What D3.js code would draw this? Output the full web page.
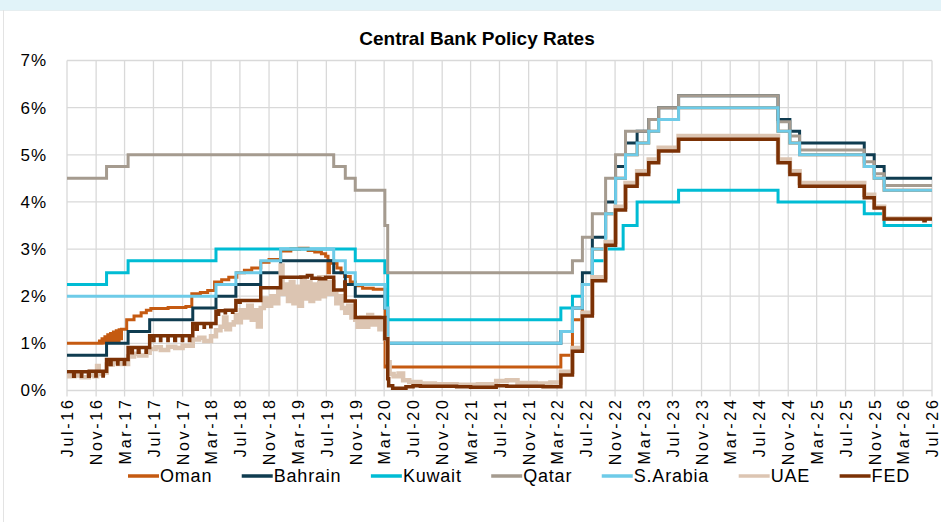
<!DOCTYPE html>
<html>
<head>
<meta charset="utf-8">
<script src="https://cdn.jsdelivr.net/npm/d3@7/dist/d3.min.js"></script>
<style>
  html, body { margin: 0; padding: 0; background: #ffffff; }
  svg { display: block; }
  text { font-family: "Liberation Sans", Arial, sans-serif; fill: #000000; }
</style>
</head>
<body>
<svg id="chart" width="941" height="522"></svg>
<script>
// ---- series and axis definitions ----
const seriesNames = ["Oman", "Bahrain", "Kuwait", "Qatar", "S.Arabia", "UAE", "FED"];
const seriesColors = ["#c55a11", "#0f3c50", "#00bcd4", "#a59b8f", "#6ecbe8", "#dcc5b2", "#7b3105"];
const yTickValues = [0, 1, 2, 3, 4, 5, 6, 7];
const xTickLabels = ["Jul-16", "Nov-16", "Mar-17", "Jul-17", "Nov-17", "Mar-18", "Jul-18", "Nov-18",
  "Mar-19", "Jul-19", "Nov-19", "Mar-20", "Jul-20", "Nov-20", "Mar-21", "Jul-21", "Nov-21", "Mar-22",
  "Jul-22", "Nov-22", "Mar-23", "Jul-23", "Nov-23", "Mar-24", "Jul-24", "Nov-24", "Mar-25", "Jul-25",
  "Nov-25", "Mar-26", "Jul-26"];

// policy rates, % (date of change, new level)
const omanRates = [
  ["2016-07-01", 1.00], ["2016-11-15", 1.05], ["2016-11-20", 1.00], ["2016-11-26", 1.10], ["2016-12-02", 1.01],
  ["2016-12-08", 1.14], ["2016-12-14", 1.02], ["2016-12-20", 1.18], ["2016-12-26", 1.03], ["2017-01-01", 1.21],
  ["2017-01-07", 1.04], ["2017-01-13", 1.24], ["2017-01-19", 1.05], ["2017-01-25", 1.27], ["2017-01-31", 1.06],
  ["2017-02-06", 1.29], ["2017-02-12", 1.10], ["2017-02-16", 1.30], ["2017-03-10", 1.50], ["2017-04-10", 1.58],
  ["2017-05-10", 1.65], ["2017-06-01", 1.70], ["2017-06-20", 1.74], ["2017-09-01", 1.76], ["2017-11-15", 1.78],
  ["2017-12-10", 2.05], ["2018-01-15", 2.08], ["2018-02-15", 2.12], ["2018-03-16", 2.30], ["2018-04-15", 2.35],
  ["2018-05-15", 2.40], ["2018-06-18", 2.50], ["2018-07-20", 2.55], ["2018-08-20", 2.60], ["2018-09-27", 2.72],
  ["2018-11-01", 2.78], ["2018-12-20", 2.96], ["2019-02-01", 3.00], ["2019-03-10", 3.02], ["2019-04-15", 2.97],
  ["2019-05-13", 2.94], ["2019-06-10", 2.90], ["2019-06-28", 2.85], ["2019-07-08", 2.50], ["2019-07-14", 2.75],
  ["2019-07-25", 2.70], ["2019-08-15", 2.60], ["2019-09-01", 2.50], ["2019-09-16", 2.42], ["2019-10-10", 2.30],
  ["2019-11-01", 2.22], ["2019-12-01", 2.17], ["2020-01-15", 2.15], ["2020-03-05", 0.50], ["2022-03-17", 0.75],
  ["2022-05-05", 1.50], ["2022-06-16", 2.25], ["2022-07-28", 3.00], ["2022-09-22", 3.75], ["2022-11-03", 4.50],
  ["2022-12-15", 5.00], ["2023-02-02", 5.25], ["2023-03-23", 5.50], ["2023-05-04", 5.75], ["2023-07-27", 6.00],
  ["2024-09-19", 5.50], ["2024-11-08", 5.25], ["2024-12-19", 5.00], ["2025-09-18", 4.75], ["2025-10-30", 4.50],
  ["2025-12-11", 4.25], ["2026-07-01", 4.25]
];

const bahrainRates = [
  ["2016-07-01", 0.75], ["2016-12-15", 1.00], ["2017-03-16", 1.25], ["2017-06-15", 1.50], ["2017-12-14", 1.75],
  ["2018-03-22", 2.00], ["2018-06-14", 2.25], ["2018-09-27", 2.50], ["2018-12-20", 2.75], ["2019-08-01", 2.50],
  ["2019-09-19", 2.25], ["2019-10-31", 2.00], ["2020-03-04", 1.75], ["2020-03-16", 1.00], ["2022-03-17", 1.25],
  ["2022-05-05", 1.75], ["2022-06-16", 2.50], ["2022-07-28", 3.25], ["2022-09-22", 4.00], ["2022-11-03", 4.75],
  ["2022-12-15", 5.25], ["2023-02-02", 5.50], ["2023-03-23", 5.75], ["2023-05-04", 6.00], ["2023-07-27", 6.25],
  ["2024-09-19", 5.75], ["2024-11-08", 5.50], ["2024-12-19", 5.25], ["2025-09-18", 5.00], ["2025-10-30", 4.75],
  ["2025-12-11", 4.50], ["2026-07-01", 4.50]
];

const kuwaitRates = [
  ["2016-07-01", 2.25], ["2016-12-15", 2.50], ["2017-03-16", 2.75], ["2018-03-22", 3.00], ["2019-10-31", 2.75],
  ["2020-03-04", 2.50], ["2020-03-16", 1.50], ["2022-03-17", 1.75], ["2022-05-05", 2.00], ["2022-06-16", 2.25],
  ["2022-07-28", 2.75], ["2022-09-22", 3.00], ["2022-12-05", 3.50], ["2023-02-02", 4.00], ["2023-07-27", 4.25],
  ["2024-09-19", 4.00], ["2025-09-18", 3.75], ["2025-12-11", 3.50], ["2026-07-01", 3.50]
];

const qatarRates = [
  ["2016-07-01", 4.50], ["2016-12-15", 4.75], ["2017-03-16", 5.00], ["2019-08-01", 4.75], ["2019-09-19", 4.50],
  ["2019-10-31", 4.25], ["2020-03-04", 3.50], ["2020-03-16", 2.50], ["2022-05-05", 2.75], ["2022-06-16", 3.25],
  ["2022-07-28", 3.75], ["2022-09-22", 4.50], ["2022-11-03", 5.00], ["2022-12-15", 5.50], ["2023-03-23", 5.75],
  ["2023-05-04", 6.00], ["2023-07-27", 6.25], ["2024-09-19", 5.70], ["2024-11-08", 5.40], ["2024-12-19", 5.10],
  ["2025-09-18", 4.85], ["2025-10-30", 4.60], ["2025-12-11", 4.35], ["2026-07-01", 4.35]
];

const saudiRates = [
  ["2016-07-01", 2.00], ["2018-03-22", 2.25], ["2018-06-14", 2.50], ["2018-09-27", 2.75], ["2018-12-20", 3.00],
  ["2019-08-01", 2.75], ["2019-09-19", 2.50], ["2019-10-31", 2.25], ["2020-03-04", 1.75], ["2020-03-16", 1.00],
  ["2022-03-17", 1.25], ["2022-05-05", 1.75], ["2022-06-16", 2.25], ["2022-07-28", 3.00], ["2022-09-22", 3.75],
  ["2022-11-03", 4.50], ["2022-12-15", 5.00], ["2023-02-02", 5.25], ["2023-03-23", 5.50], ["2023-05-04", 5.75],
  ["2023-07-27", 6.00], ["2024-09-19", 5.50], ["2024-11-08", 5.25], ["2024-12-19", 5.00], ["2025-09-18", 4.75],
  ["2025-10-30", 4.50], ["2025-12-11", 4.25], ["2026-07-01", 4.25]
];

const uaeRates = [
  ["2016-07-01", 0.30], ["2016-08-01", 0.32], ["2016-09-01", 0.28], ["2016-10-01", 0.33], ["2016-10-25", 0.30],
  ["2016-11-05", 0.52], ["2016-11-12", 0.35], ["2016-12-01", 0.38], ["2016-12-16", 0.55], ["2017-01-10", 0.60],
  ["2017-02-01", 0.56], ["2017-03-16", 0.72], ["2017-04-10", 0.78], ["2017-05-01", 0.74], ["2017-06-01", 0.80],
  ["2017-06-15", 0.88], ["2017-07-10", 0.92], ["2017-08-01", 0.86], ["2017-09-01", 0.93], ["2017-10-01", 0.90],
  ["2017-11-01", 0.95], ["2017-12-14", 1.08], ["2018-01-10", 1.12], ["2018-02-01", 1.05], ["2018-03-01", 1.15],
  ["2018-03-22", 1.28], ["2018-04-10", 1.35], ["2018-04-25", 1.55], ["2018-05-05", 1.30], ["2018-05-20", 1.40],
  ["2018-06-05", 1.45], ["2018-06-14", 1.60], ["2018-06-25", 1.45], ["2018-07-05", 1.70], ["2018-07-20", 1.55],
  ["2018-08-05", 1.80], ["2018-08-20", 1.50], ["2018-09-05", 1.70], ["2018-09-15", 1.36], ["2018-09-27", 1.75],
  ["2018-10-10", 1.95], ["2018-10-25", 1.80], ["2018-11-10", 2.00], ["2018-11-25", 1.85], ["2018-12-10", 2.15],
  ["2018-12-20", 2.65], ["2018-12-28", 2.05], ["2019-01-10", 2.25], ["2019-01-20", 1.90], ["2019-02-01", 2.30],
  ["2019-02-12", 1.85], ["2019-02-25", 2.20], ["2019-03-08", 1.80], ["2019-03-20", 2.35], ["2019-04-01", 1.95],
  ["2019-04-12", 2.30], ["2019-04-25", 1.90], ["2019-05-06", 2.25], ["2019-05-18", 1.95], ["2019-06-01", 2.40],
  ["2019-06-12", 2.00], ["2019-06-25", 2.30], ["2019-07-08", 2.05], ["2019-07-20", 2.30], ["2019-08-01", 2.05],
  ["2019-08-12", 1.85], ["2019-08-25", 2.00], ["2019-09-05", 1.75], ["2019-09-19", 1.65], ["2019-10-01", 1.80],
  ["2019-10-15", 1.55], ["2019-10-31", 1.50], ["2019-11-10", 1.35], ["2019-11-25", 1.55], ["2019-12-10", 1.35],
  ["2019-12-25", 1.60], ["2020-01-10", 1.40], ["2020-01-25", 1.55], ["2020-02-10", 1.30], ["2020-02-25", 1.50],
  ["2020-03-04", 1.10], ["2020-03-16", 0.60], ["2020-03-24", 0.35], ["2020-04-10", 0.30], ["2020-05-01", 0.36],
  ["2020-05-20", 0.22], ["2020-06-15", 0.18], ["2020-08-01", 0.15], ["2020-10-01", 0.13], ["2021-01-01", 0.12],
  ["2021-04-01", 0.13], ["2021-06-17", 0.20], ["2021-08-01", 0.22], ["2021-09-15", 0.16], ["2021-12-01", 0.15],
  ["2022-02-01", 0.17], ["2022-03-17", 0.40], ["2022-05-05", 0.90], ["2022-06-16", 1.65], ["2022-07-28", 2.40],
  ["2022-09-22", 3.15], ["2022-11-03", 3.90], ["2022-12-15", 4.40], ["2023-02-02", 4.65], ["2023-03-23", 4.90],
  ["2023-05-04", 5.15], ["2023-07-27", 5.40], ["2024-09-19", 4.90], ["2024-11-08", 4.65], ["2024-12-19", 4.40],
  ["2025-09-18", 4.15], ["2025-10-30", 3.90], ["2025-12-11", 3.65], ["2026-07-01", 3.65]
];

const fedRates = [
  ["2016-07-01", 0.40], ["2016-07-29", 0.30], ["2016-08-01", 0.40], ["2016-08-31", 0.30], ["2016-09-01", 0.40],
  ["2016-09-30", 0.30], ["2016-10-03", 0.41], ["2016-10-31", 0.31], ["2016-11-01", 0.41], ["2016-11-30", 0.31],
  ["2016-12-01", 0.41], ["2016-12-15", 0.66], ["2016-12-30", 0.55], ["2017-01-03", 0.66], ["2017-01-31", 0.56],
  ["2017-02-01", 0.66], ["2017-02-28", 0.56], ["2017-03-01", 0.66], ["2017-03-16", 0.91], ["2017-03-31", 0.80],
  ["2017-04-03", 0.91], ["2017-04-28", 0.81], ["2017-05-01", 0.91], ["2017-05-31", 0.81], ["2017-06-01", 0.91],
  ["2017-06-15", 1.16], ["2017-06-30", 1.06], ["2017-07-03", 1.16], ["2017-07-31", 1.06], ["2017-08-01", 1.16],
  ["2017-08-31", 1.06], ["2017-09-01", 1.16], ["2017-09-29", 1.06], ["2017-10-02", 1.16], ["2017-10-31", 1.06],
  ["2017-11-01", 1.16], ["2017-11-30", 1.06], ["2017-12-01", 1.16], ["2017-12-14", 1.42], ["2017-12-29", 1.30],
  ["2018-01-02", 1.42], ["2018-01-31", 1.34], ["2018-02-01", 1.42], ["2018-02-28", 1.35], ["2018-03-01", 1.42],
  ["2018-03-22", 1.68], ["2018-03-29", 1.62], ["2018-04-02", 1.69], ["2018-04-30", 1.65], ["2018-05-01", 1.70],
  ["2018-05-31", 1.66], ["2018-06-01", 1.70], ["2018-06-14", 1.91], ["2018-06-29", 1.87], ["2018-07-02", 1.91],
  ["2018-09-27", 2.18], ["2018-12-20", 2.40], ["2019-03-15", 2.41], ["2019-04-12", 2.44], ["2019-05-01", 2.38],
  ["2019-06-03", 2.37], ["2019-06-28", 2.40], ["2019-08-01", 2.13], ["2019-09-17", 2.30], ["2019-09-19", 1.90],
  ["2019-10-31", 1.55], ["2020-03-04", 1.10], ["2020-03-16", 0.25], ["2020-03-20", 0.10], ["2020-04-06", 0.05],
  ["2020-06-01", 0.08], ["2020-07-01", 0.10], ["2020-08-01", 0.09], ["2021-01-01", 0.08], ["2021-03-01", 0.07],
  ["2021-06-17", 0.10], ["2021-08-01", 0.09], ["2022-01-01", 0.08], ["2022-03-17", 0.33], ["2022-05-05", 0.83],
  ["2022-06-16", 1.58], ["2022-07-28", 2.33], ["2022-09-22", 3.08], ["2022-11-03", 3.83], ["2022-12-15", 4.33],
  ["2023-02-02", 4.58], ["2023-03-23", 4.83], ["2023-05-04", 5.08], ["2023-07-27", 5.33], ["2024-09-19", 4.83],
  ["2024-11-08", 4.58], ["2024-12-19", 4.33], ["2025-09-18", 4.09], ["2025-10-30", 3.87], ["2025-12-11", 3.64],
  ["2026-05-28", 3.60], ["2026-06-02", 3.64], ["2026-07-01", 3.64]
];

const seriesData = [omanRates, bahrainRates, kuwaitRates, qatarRates, saudiRates, uaeRates, fedRates];
const seriesWidths = [3, 3, 3, 3, 3, 4.5, 3.5];

// ---- drawing ----
const svg = d3.select("#chart");
const parseDay = d3.timeParse("%Y-%m-%d");
const parseTick = d3.timeParse("%b-%y");
const tickDates = xTickLabels.map(parseTick);

const x = d3.scaleTime()
  .domain([tickDates[0], tickDates[tickDates.length - 1]])
  .range([67, 932]);
const y = d3.scaleLinear().domain([0, 7]).range([390.5, 60.5]);

// frame: pale band across the top, thin border on the left
svg.append("rect").attr("x", 0).attr("y", 0).attr("width", 941).attr("height", 10).attr("fill", "#e1f3f9");
svg.append("line").attr("x1", 0).attr("x2", 941).attr("y1", 10.5).attr("y2", 10.5)
  .attr("stroke", "#e6eef0").attr("stroke-width", 1);
svg.append("line").attr("x1", 3.5).attr("x2", 3.5).attr("y1", 10).attr("y2", 522)
  .attr("stroke", "#e3e3e3").attr("stroke-width", 1);

// title
svg.append("text")
  .attr("x", 477).attr("y", 45)
  .attr("text-anchor", "middle")
  .style("font-size", "19px").style("font-weight", "bold")
  .text("Central Bank Policy Rates");

// grid
const grid = svg.append("g").attr("stroke", "#d9d9d9").attr("stroke-width", 1.3);
grid.selectAll("line.h").data(yTickValues).join("line")
  .attr("class", "h")
  .attr("x1", x.range()[0]).attr("x2", x.range()[1])
  .attr("y1", d => y(d)).attr("y2", d => y(d));
grid.selectAll("line.v").data(tickDates).join("line")
  .attr("class", "v")
  .attr("x1", d => x(d)).attr("x2", d => x(d))
  .attr("y1", y(7)).attr("y2", y(0) + 6);

// y axis labels
const yAxis = d3.axisLeft(y).tickValues(yTickValues).tickFormat(d => d + "%").tickSize(0).tickPadding(20);
const yg = svg.append("g").attr("transform", `translate(${x.range()[0]},0)`).call(yAxis);
yg.select(".domain").remove();
yg.selectAll("text")
  .style("font-size", "17px")
  .style("font-family", "\"Liberation Sans\", Arial, sans-serif")
  .attr("fill", "#000")
  .style("letter-spacing", "1px");

// x axis labels, rotated
const xAxis = d3.axisBottom(x).tickValues(tickDates).tickFormat((d, i) => xTickLabels[i]).tickSize(0);
const xg = svg.append("g").attr("transform", `translate(0,${y(0)})`).call(xAxis);
xg.select(".domain").remove();
xg.selectAll("text")
  .attr("transform", "rotate(-90)")
  .attr("text-anchor", "end")
  .attr("x", -7).attr("y", 0).attr("dy", "0.36em")
  .style("font-size", "16px")
  .style("font-family", "\"Liberation Sans\", Arial, sans-serif")
  .style("letter-spacing", "2.7px")
  .attr("fill", "#000");

// series lines
const line = d3.line()
  .x(d => x(parseDay(d[0])))
  .y(d => y(d[1]))
  .curve(d3.curveStepAfter);

const lines = svg.append("g").attr("fill", "none").attr("stroke-linejoin", "miter");
seriesData.forEach((rows, i) => {
  lines.append("path")
    .datum(rows)
    .attr("d", line)
    .attr("stroke", seriesColors[i])
    .attr("stroke-width", seriesWidths[i]);
});

// legend
const legend = svg.append("g");
let cursor = 128;
seriesNames.forEach((name, i) => {
  legend.append("line")
    .attr("x1", cursor).attr("x2", cursor + 31)
    .attr("y1", 476).attr("y2", 476)
    .attr("stroke", seriesColors[i]).attr("stroke-width", 3.5);
  const t = legend.append("text")
    .attr("x", cursor + 32).attr("y", 482)
    .style("font-size", "18px")
    .style("letter-spacing", "0.8px")
    .text(name);
  cursor += 32 + t.node().getComputedTextLength() + 29.5;
});
</script>
</body>
</html>
